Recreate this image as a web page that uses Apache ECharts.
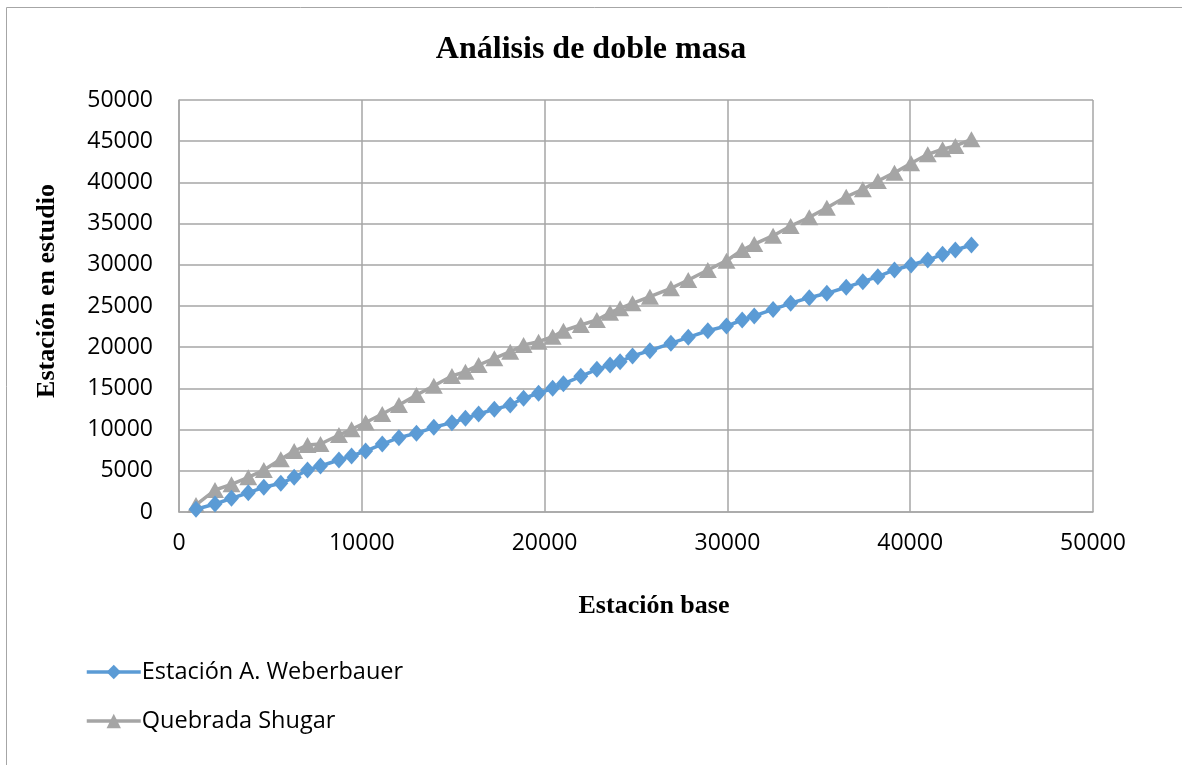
<!DOCTYPE html>
<html>
<head>
<meta charset="utf-8">
<script src="https://cdn.jsdelivr.net/npm/echarts@6/dist/echarts.min.js"></script>
<style>
html,body{margin:0;padding:0;background:#fff;}
#c{width:1182px;height:765px;}
</style>
</head>
<body>
<div id="c"></div>
<script>
const baseX = [930,1970,2870,3790,4640,5570,6300,7030,7740,8750,9440,10210,11120,12030,12990,13940,14930,15670,16390,17250,18120,18850,19670,20440,21030,21980,22860,23580,24130,24810,25760,26910,27860,28930,29950,30810,31470,32500,33460,34480,35440,36500,37410,38230,39140,40050,40960,41770,42470,43350];
const weberbauer = [330,970,1660,2340,3000,3480,4210,5100,5580,6310,6800,7400,8250,9020,9550,10280,10840,11370,11890,12460,12990,13800,14410,15010,15550,16470,17320,17840,18240,18930,19580,20470,21200,22000,22570,23300,23790,24590,25330,26010,26540,27270,27950,28560,29370,29980,30580,31270,31800,32400];
const shugar = [850,2670,3360,4210,5100,6400,7400,8130,8250,9340,10040,10860,11890,12990,14200,15330,16500,17030,17840,18650,19450,20270,20670,21270,22000,22690,23300,24190,24720,25330,26130,27150,28160,29370,30500,31800,32520,33530,34710,35760,36930,38260,39160,40170,41180,42320,43410,44020,44420,45230];
const seriesNames = ['Estación A. Weberbauer','Quebrada Shugar'];
const titleText = 'Análisis de doble masa';
const xName = 'Estación base';
const yName = 'Estación en estudio';

const pair = (xs, ys) => xs.map((x, i) => [x, ys[i]]);
const sans = '"Open Sans", sans-serif';
const serif = '"Liberation Serif", "Times New Roman", serif';
const gridColor = '#a6a6a6';
const plain = v => String(v);

const chart = echarts.init(document.getElementById('c'), null, {renderer:'canvas'});
chart.setOption({
  animation:false,
  backgroundColor:'#fff',
  title:{text:titleText,left:'center',top:29,padding:[5,5,5,15],
    textStyle:{fontFamily:serif,fontWeight:'bold',fontSize:32,color:'#000'}},
  grid:{left:179,right:89,top:100,bottom:253,containLabel:false,show:false},
  xAxis:{type:'value',min:0,max:50000,interval:10000,
    name:xName,nameLocation:'middle',nameGap:81,
    nameTextStyle:{fontFamily:serif,fontWeight:'bold',fontSize:26,color:'#000',padding:[0,0,0,36]},
    axisLine:{show:true,lineStyle:{color:gridColor,width:1.5}},
    axisTick:{show:false},
    axisLabel:{fontFamily:sans,fontSize:23,color:'#000',margin:20,formatter:plain},
    splitLine:{show:true,lineStyle:{color:gridColor,width:1.5}}},
  yAxis:{type:'value',min:0,max:50000,interval:5000,
    name:yName,nameLocation:'middle',nameGap:119,
    nameTextStyle:{fontFamily:serif,fontWeight:'bold',fontSize:26,color:'#000',padding:[0,0,0,30]},
    axisLine:{show:true,lineStyle:{color:gridColor,width:1.5}},
    axisTick:{show:false},
    axisLabel:{fontFamily:sans,fontSize:23,color:'#000',margin:26,formatter:plain},
    splitLine:{show:true,lineStyle:{color:gridColor,width:1.5}}},
  legend:{orient:'vertical',left:80,top:655,itemWidth:54,itemHeight:18,itemGap:25,
    textStyle:{fontFamily:sans,fontSize:23.5,color:'#000',padding:[0,0,0,-4]},
    data:[
      {name:seriesNames[0],lineStyle:{width:3.5}},
      {name:seriesNames[1],lineStyle:{width:3.5}}
    ]},
  graphic:[
    {type:'line',shape:{x1:6.5,y1:7.5,x2:1182,y2:7.5},style:{stroke:'#a6a6a6',lineWidth:1}},
    {type:'line',shape:{x1:6.5,y1:7.5,x2:6.5,y2:765},style:{stroke:'#a6a6a6',lineWidth:1}}
  ],
  series:[
    {name:seriesNames[0],type:'line',data:pair(baseX,weberbauer),
      symbol:'diamond',symbolSize:[15,17],showAllSymbol:true,
      lineStyle:{color:'#5b9bd5',width:3.5},itemStyle:{color:'#5b9bd5'},z:3},
    {name:seriesNames[1],type:'line',data:pair(baseX,shugar),
      symbol:'triangle',symbolSize:[18,16],showAllSymbol:true,
      lineStyle:{color:'#a5a5a5',width:3.5},itemStyle:{color:'#a5a5a5'},z:2}
  ]
});
</script>
</body>
</html>
